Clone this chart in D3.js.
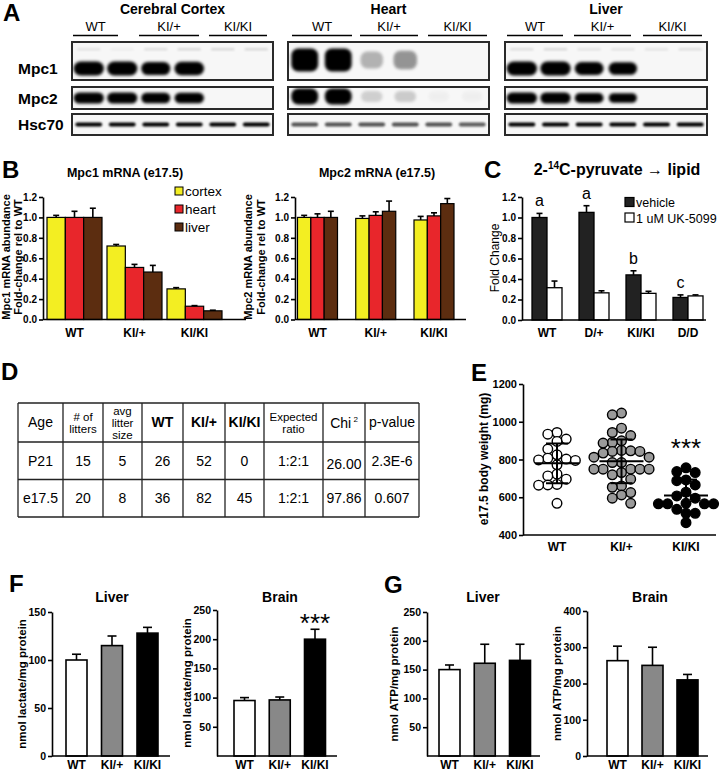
<!DOCTYPE html>
<html><head><meta charset="utf-8">
<script src="https://cdn.jsdelivr.net/npm/d3@7"></script>
<style>
body{margin:0;background:#fff}
svg{display:block;font-family:"Liberation Sans",Arial,sans-serif}
</style></head><body><svg id="c" width="720" height="771"></svg>
<script>
// ================= DATA =================
// Panel A (western blot band intensities, 6 lanes: WT,WT,KI/+,KI/+,KI/KI,KI/KI)
const genotypes = ["WT", "KI/+", "KI/KI"];
const blotTissues = ["Cerebral Cortex", "Heart", "Liver"];
const blotProteins = ["Mpc1", "Mpc2", "Hsc70"];
const lanes = [0, 1, 2, 3, 4, 5];
const cortexMpc1 = [1, 1, 0.85, 0.92, 0, 0];
const cortexMpc2 = [1, 1, 0.85, 0.9, 0, 0];
const cortexHsc70 = [0.85, 0.75, 0.85, 0.85, 0.85, 0.85];
const cortexUpper = [0.2, 0.1, 0.25, 0.3, 0.3, 0.3];
const heartMpc1 = [1, 1, 0.35, 0.5, 0, 0];
const heartMpc2 = [1, 1, 0.2, 0.22, 0.04, 0.04];
const heartHsc70 = [0.85, 0.85, 0.85, 0.85, 0.85, 0.8];
const heartUpper = [0, 0, 0, 0, 0, 0];
const liverMpc1 = [1, 1, 0.8, 0.75, 0, 0];
const liverMpc2 = [1, 1, 0.8, 0.7, 0, 0];
const liverHsc70 = [0.9, 0.85, 0.9, 0.85, 0.85, 0.9];
const liverUpper = [0.25, 0.3, 0.2, 0.2, 0.2, 0.25];

// Panel B (mRNA fold change)
const mrnaTissues = ["cortex", "heart", "liver"];
const mpc1Cortex = [1.00, 0.72, 0.30], mpc1CortexErr = [0.02, 0.015, 0.012];
const mpc1Heart  = [1.00, 0.51, 0.13], mpc1HeartErr  = [0.06, 0.03, 0.006];
const mpc1Liver  = [1.00, 0.465, 0.085], mpc1LiverErr = [0.09, 0.065, 0.006];
const mpc2Cortex = [1.00, 0.99, 0.975], mpc2CortexErr = [0.02, 0.025, 0.035];
const mpc2Heart  = [1.00, 1.02, 1.015], mpc2HeartErr  = [0.035, 0.035, 0.03];
const mpc2Liver  = [1.00, 1.06, 1.135], mpc2LiverErr  = [0.06, 0.10, 0.05];
const mrnaTicks = [0, 0.2, 0.4, 0.6, 0.8, 1.0, 1.2];

// Panel C (2-14C-pyruvate -> lipid)
const lipidGenotypes = ["WT", "D/+", "KI/KI", "D/D"];
const lipidSeries = ["vehicle", "1 uM UK-5099"];
const lipidVehicle = [1.00, 1.05, 0.44, 0.22], lipidVehicleErr = [0.04, 0.065, 0.04, 0.025];
const lipidUK = [0.315, 0.265, 0.26, 0.235], lipidUKErr = [0.065, 0.02, 0.02, 0.01];
const lipidLetters = ["a", "a", "b", "c"];

// Panel D (table)
const tableHeader = ["Age", "# of|litters", "avg|litter|size", "WT", "KI/+", "KI/KI", "Expected|ratio", "Chi^2", "p-value"];
const tableRows = [
  ["P21", "15", "5", "26", "52", "0", "1:2:1", "26.00", "2.3E-6"],
  ["e17.5", "20", "8", "36", "82", "45", "1:2:1", "97.86", "0.607"]
];

// Panel E (e17.5 body weight, mg)
const weightWT = [943, 934, 908, 896, 855, 825, 802, 795, 798, 807, 772, 713, 722, 696, 664, 665, 668, 568];
const weightHet = [1046, 1037, 966, 943, 927, 899, 887, 890, 848, 846, 843, 843, 834, 812, 812, 812, 812, 812,
  784, 784, 749, 749, 749, 749, 749, 731, 719, 706, 706, 696, 660, 653, 625, 612, 595, 568];
const weightKO = [756, 731, 736, 688, 692, 665, 627, 607, 595, 565, 565, 565, 565, 568, 536, 515, 515, 465];
const weightTicks = [400, 600, 800, 1000, 1200];

// Panel F (lactate)
const lactateLiver = [100, 115, 128], lactateLiverErr = [6, 10, 6];
const lactateBrain = [95, 96, 200], lactateBrainErr = [5, 5, 17];
// Panel G (ATP)
const atpLiver = [150, 161, 166], atpLiverErr = [8, 33, 28];
const atpBrain = [263, 250, 210], atpBrainErr = [40, 50, 15];

// ================= STYLE =================
const FONT = "Liberation Sans, Arial, sans-serif";
const mrnaColors = ["#f3ee22", "#e8262b", "#5c2d10"];
const genoFills = ["#ffffff", "#888888", "#000000"];

const svg = d3.select("#c");
const defs = svg.append("defs");
defs.append("filter").attr("id", "blur").attr("x", "-50%").attr("y", "-100%")
  .attr("width", "200%").attr("height", "300%")
  .append("feGaussianBlur").attr("stdDeviation", 1.5);
defs.append("filter").attr("id", "blur2").attr("x", "-10%").attr("y", "-50%")
  .attr("width", "120%").attr("height", "200%")
  .append("feGaussianBlur").attr("stdDeviation", 0.8);

function txt(x, y, s, size, weight, anchor) {
  return svg.append("text").attr("x", x).attr("y", y).attr("font-family", FONT)
    .attr("font-size", size).attr("font-weight", weight || "normal")
    .attr("text-anchor", anchor || "start").attr("fill", "#000").text(s);
}
function letter(s, x, y) { txt(x, y, s, 24, "bold"); }
function yAxis(x, y, ticks, fmt, fs) {
  const g = svg.append("g").attr("transform", `translate(${x},0)`)
    .call(d3.axisLeft(y).tickValues(ticks).tickFormat(fmt).tickSize(4).tickSizeOuter(0).tickPadding(2));
  g.select(".domain").attr("stroke", "#000").attr("stroke-width", 1.6);
  g.selectAll(".tick line").attr("stroke", "#000").attr("stroke-width", 1.6);
  g.selectAll("text").attr("font-family", FONT).attr("font-weight", "bold").attr("font-size", fs || 11).attr("fill", "#000");
  return g;
}
function hline(x0, x1, y, w) {
  svg.append("line").attr("x1", x0).attr("x2", x1).attr("y1", y).attr("y2", y)
    .attr("stroke", "#000").attr("stroke-width", w || 1.6);
}
// rotated title: bx = baseline x on screen, cy = vertical centre
function yTitle(s, bx, cy, size, weight) {
  svg.append("text").attr("transform", `translate(${bx},${cy}) rotate(-90)`)
    .attr("font-family", FONT).attr("font-size", size).attr("font-weight", weight)
    .attr("text-anchor", "middle").text(s);
}
function errBar(g, cx, yTop, yErr, cap) {
  g.append("line").attr("x1", cx).attr("x2", cx).attr("y1", yTop).attr("y2", yErr).attr("stroke", "#000").attr("stroke-width", 1.6);
  g.append("line").attr("x1", cx - cap / 2).attr("x2", cx + cap / 2).attr("y1", yErr).attr("y2", yErr).attr("stroke", "#000").attr("stroke-width", 1.6);
}

// ================= PANEL A =================
letter("A", 3, 21);
const blotPanels = [
  { x0: 72, x1: 273, title: blotTissues[0], data: [cortexMpc1, cortexMpc2, cortexHsc70], upper: cortexUpper,
    lines: [[73, 118], [139, 199], [209, 267]], big: false },
  { x0: 288, x1: 489, title: blotTissues[1], data: [heartMpc1, heartMpc2, heartHsc70], upper: heartUpper,
    lines: [[292, 352], [360, 418], [428, 487]], big: true },
  { x0: 505, x1: 707, title: blotTissues[2], data: [liverMpc1, liverMpc2, liverHsc70], upper: liverUpper,
    lines: [[507, 563], [574, 631], [643, 702]], big: false }
];
const blotRowsGeom = [
  { y0: 42, y1: 80, cy: 68.5, h: 14, hBig: 23, cyBig: 60 },
  { y0: 87, y1: 109, cy: 98, h: 11, hBig: 16, cyBig: 96.5 },
  { y0: 114, y1: 135, cy: 124.5, h: 4, hBig: 4, cyBig: 124.5 }
];
blotProteins.forEach((p, i) => txt(18, [74, 104, 130][i], p, 15.5, "bold"));
blotPanels.forEach(bp => {
  txt((bp.x0 + bp.x1) / 2, 14, bp.title, 14, "bold", "middle");
  bp.lines.forEach((l, k) => {
    txt((l[0] + l[1]) / 2, 31, genotypes[k], 13, "normal", "middle");
    hline(l[0], l[1], 35.5, 1.6);
  });
  const lx = d3.scaleBand().domain(lanes).range([bp.x0, bp.x1]);
  blotRowsGeom.forEach((rg, ri) => {
    const g = svg.append("g");
    g.append("rect").attr("x", bp.x0).attr("y", rg.y0).attr("width", bp.x1 - bp.x0).attr("height", rg.y1 - rg.y0)
      .attr("fill", "#f7f7f7").attr("stroke", "#2a2a2a").attr("stroke-width", 2);
    const vals = bp.data[ri];
    const bw = lx.bandwidth();
    if (ri === 0) {
      bp.upper.forEach((v, li) => {
        if (v <= 0) return;
        g.append("rect").attr("x", lx(li) + bw * 0.15).attr("y", rg.y0 + 6).attr("width", bw * 0.7).attr("height", 2.5)
          .attr("rx", 1.2).attr("fill", "#555").attr("opacity", v * 0.6).attr("filter", "url(#blur2)");
      });
    }
    vals.forEach((v, li) => {
      if (v <= 0.01) return;
      const h = (bp.big ? rg.hBig : rg.h) * (ri === 2 ? 1 : (0.6 + 0.4 * v));
      const w = bw * (ri === 2 ? 0.8 : (bp.big ? 0.8 : 0.9) * (0.75 + 0.25 * v));
      const cy = bp.big ? rg.cyBig : rg.cy;
      const op = bp.big ? Math.min(1, v * 1.1) : (v > 0.6 ? 1 : v * 1.3);
      g.append("rect").attr("x", lx(li) + (bw - w) / 2).attr("y", cy - h / 2).attr("width", w).attr("height", h)
        .attr("rx", Math.min(h / 2, 7)).attr("fill", bp.big && v < 0.9 ? "#444" : "#000")
        .attr("opacity", op).attr("filter", ri === 2 ? "url(#blur2)" : "url(#blur)");
    });
  });
});

// ================= PANEL B =================
letter("B", 2, 178);
function mrnaChart(axisX, axisEnd, centers, inner, title, titleX, series, errs) {
  const y = d3.scaleLinear().domain([0, 1.2]).range([319.5, 197]);
  const gx = d3.scalePoint().domain(genotypes).range(centers);
  const bx = d3.scaleBand().domain(mrnaTissues).range([-inner, inner]);
  txt(titleX, 177, title, 12.5, "bold", "middle");
  const g = svg.append("g");
  mrnaTissues.forEach((t, ti) => {
    genotypes.forEach((gt, gi) => {
      const v = series[ti][gi], e = errs[ti][gi];
      const x = gx(gt) + bx(t);
      g.append("rect").attr("x", x).attr("y", y(v)).attr("width", bx.bandwidth()).attr("height", y(0) - y(v))
        .attr("fill", mrnaColors[ti]).attr("stroke", "#000").attr("stroke-width", 1.2);
      errBar(g, x + bx.bandwidth() / 2, y(v), y(v + e), 6);
    });
  });
  yAxis(axisX, y, mrnaTicks, d3.format(".1f"), 10);
  hline(axisX, axisEnd, y(0));
  genotypes.forEach(gt => txt(gx(gt), 337, gt, 12, "bold", "middle"));
}
mrnaChart(43, 246, [74.5, 194.5], 27.5, "Mpc1 mRNA (e17.5)", 125,
  [mpc1Cortex, mpc1Heart, mpc1Liver], [mpc1CortexErr, mpc1HeartErr, mpc1LiverErr]);
yTitle("Mpc1 mRNA abundance", 10, 257, 11, "bold");
yTitle("Fold-change rel to WT", 22, 257, 11, "bold");
mrnaChart(295, 466, [317.5, 434], 20, "Mpc2 mRNA (e17.5)", 377,
  [mpc2Cortex, mpc2Heart, mpc2Liver], [mpc2CortexErr, mpc2HeartErr, mpc2LiverErr]);
yTitle("Mpc2 mRNA abundance", 252, 257, 11, "bold");
yTitle("Fold-change rel to WT", 265, 257, 11, "bold");
// legend
mrnaTissues.forEach((t, i) => {
  const cy = 191 + i * 18;
  svg.append("rect").attr("x", 175).attr("y", cy - 4).attr("width", 8).attr("height", 8)
    .attr("fill", mrnaColors[i]).attr("stroke", "#000").attr("stroke-width", 1);
  txt(185, cy + 5, t, 13.5, "normal");
});

// ================= PANEL C =================
letter("C", 484, 178);
{
  const t = svg.append("text").attr("x", 617).attr("y", 175).attr("text-anchor", "middle")
    .attr("font-family", FONT).attr("font-size", 16).attr("font-weight", "bold");
  t.append("tspan").text("2-");
  t.append("tspan").attr("font-size", 10).attr("dy", -6).text("14");
  t.append("tspan").attr("dy", 6).text("C-pyruvate \u2192 lipid");
  const y = d3.scaleLinear().domain([0, 1.2]).range([320, 197]);
  const gx = d3.scalePoint().domain(lipidGenotypes).range([547, 688]);
  const bx = d3.scaleBand().domain(lipidSeries).range([-15, 15]);
  const g = svg.append("g");
  const vals = [lipidVehicle, lipidUK], errs = [lipidVehicleErr, lipidUKErr];
  const fills = ["#222222", "#ffffff"];
  lipidSeries.forEach((s, si) => {
    lipidGenotypes.forEach((gt, gi) => {
      const v = vals[si][gi], e = errs[si][gi];
      const x = gx(gt) + bx(s);
      g.append("rect").attr("x", x).attr("y", y(v)).attr("width", bx.bandwidth()).attr("height", y(0) - y(v))
        .attr("fill", fills[si]).attr("stroke", "#000").attr("stroke-width", 1.3);
      errBar(g, x + bx.bandwidth() / 2, y(v), y(v + e), 6);
      if (si === 0) txt(x + bx.bandwidth() / 2, y(v + e) - 7, lipidLetters[gi], 16, "normal", "middle");
    });
  });
  yAxis(522, y, mrnaTicks, d3.format(".1f"), 10);
  hline(522, 706, y(0));
  lipidGenotypes.forEach(gt => txt(gx(gt), 337, gt, 12, "bold", "middle"));
  yTitle("Fold Change", 499, 258, 12, "normal");
  lipidSeries.forEach((s, i) => {
    const cy = 202 + i * 15.5;
    svg.append("rect").attr("x", 625).attr("y", cy - 4.5).attr("width", 9).attr("height", 9)
      .attr("fill", fills[i]).attr("stroke", "#000").attr("stroke-width", 1.2);
    txt(636, cy + 5, s, 12.5, "normal");
  });
}

// ================= PANEL D =================
letter("D", 1, 380);
{
  const colX = [18, 63, 103, 142, 183, 225, 264, 323, 365, 419];
  const rowY = [403, 442, 479.5, 517];
  const g = svg.append("g");
  colX.forEach(x => g.append("line").attr("x1", x).attr("x2", x).attr("y1", rowY[0]).attr("y2", rowY[3])
    .attr("stroke", "#222").attr("stroke-width", 1.3));
  rowY.forEach(y => g.append("line").attr("x1", colX[0]).attr("x2", colX[9]).attr("y1", y).attr("y2", y)
    .attr("stroke", "#222").attr("stroke-width", 1.3));
  tableHeader.forEach((h, i) => {
    const cx = (colX[i] + colX[i + 1]) / 2, cy = (rowY[0] + rowY[1]) / 2;
    const bold = i >= 3 && i <= 5;
    if (h.startsWith("Chi")) {
      const t = txt(cx, cy + 5, "", 14, "normal", "middle");
      t.append("tspan").text("Chi");
      t.append("tspan").attr("font-size", 8).attr("dy", -6).text(" 2");
      return;
    }
    const lines = h.split("|");
    const lh = 12;
    lines.forEach((l, k) => {
      txt(cx, cy + 4 + (k - (lines.length - 1) / 2) * lh, l, bold ? 14 : (lines.length > 1 ? 11.5 : 14), bold ? "bold" : "normal", "middle");
    });
  });
  tableRows.forEach((r, ri) => {
    const cy = (rowY[ri + 1] + rowY[ri + 2]) / 2;
    r.forEach((c, i) => {
      const cx = (colX[i] + colX[i + 1]) / 2;
      const dy = (ri === 0 && i === 7) ? 3 : 0;
      txt(cx, cy + 5 + dy, c, 14, "normal", "middle");
    });
  });
}

// ================= PANEL E =================
letter("E", 471, 381);
{
  const y = d3.scaleLinear().domain([400, 1200]).range([535, 384]);
  const gx = d3.scalePoint().domain(genotypes).range([557, 686]);
  const groups = [weightWT, weightHet, weightKO];
  const fills = ["#ffffff", "#9a9a9a", "#000000"];
  const r = 4.8, step = 9.2, minD = 8.6;
  const g = svg.append("g");
  groups.forEach((vals, gi) => {
    // beeswarm placement derived from the values
    const sorted = vals.slice().sort((a, b) => b - a);
    const placed = [];
    sorted.forEach(v => {
      const py = y(v);
      const cands = [0, -1, 1, -2, 2, -3, 3];
      for (const c of cands) {
        const px = c * step;
        if (placed.every(p => Math.hypot(p.x - px, p.y - py) >= minD)) { placed.push({ x: px, y: py }); break; }
      }
    });
    placed.forEach(p => g.append("circle").attr("cx", gx(genotypes[gi]) + p.x).attr("cy", p.y).attr("r", r)
      .attr("fill", fills[gi]).attr("stroke", "#000").attr("stroke-width", 1.4));
    const m = d3.mean(vals), sd = d3.deviation(vals), cx = gx(genotypes[gi]);
    const lg = svg.append("g").attr("stroke", "#000").attr("stroke-width", 2);
    lg.append("line").attr("x1", cx - 22).attr("x2", cx + 22).attr("y1", y(m)).attr("y2", y(m));
    lg.append("line").attr("x1", cx).attr("x2", cx).attr("y1", y(m + sd)).attr("y2", y(m - sd));
    lg.append("line").attr("x1", cx - 11).attr("x2", cx + 11).attr("y1", y(m + sd)).attr("y2", y(m + sd));
    lg.append("line").attr("x1", cx - 11).attr("x2", cx + 11).attr("y1", y(m - sd)).attr("y2", y(m - sd));
  });
  yAxis(523, y, weightTicks, d3.format("d"), 11);
  hline(523, 716, y(400));
  genotypes.forEach(gt => txt(gx(gt), 551, gt, 12, "bold", "middle"));
  yTitle("e17.5 body weight (mg)", 488, 459, 12, "bold");
  txt(gx("KI/KI"), 457, "***", 26, "normal", "middle");
}

// ================= PANELS F & G =================
function simpleBars(axisX, axisEnd, centers, domain, yTopPx, ticks, vals, errs, title, titleX, ytitle, ytX) {
  const y = d3.scaleLinear().domain(domain).range([756, yTopPx]);
  const gx = d3.scalePoint().domain(genotypes).range(centers);
  const w = 21;
  const g = svg.append("g");
  genotypes.forEach((gt, i) => {
    const x = gx(gt) - w / 2;
    g.append("rect").attr("x", x).attr("y", y(vals[i])).attr("width", w).attr("height", y(0) - y(vals[i]))
      .attr("fill", genoFills[i]).attr("stroke", "#000").attr("stroke-width", 1.6);
    errBar(g, gx(gt), y(vals[i]), y(vals[i] + errs[i]), 9);
  });
  yAxis(axisX, y, ticks, d3.format("d"), 10.5);
  hline(axisX, axisEnd, y(0));
  genotypes.forEach(gt => txt(gx(gt), 768.5, gt, 12, "bold", "middle"));
  txt(titleX, 602, title, 14, "bold", "middle");
  yTitle(ytitle, ytX, (756 + yTopPx) / 2, 11.5, "bold");
  return { y, gx };
}
letter("F", 9, 592);
simpleBars(52, 170, [76.5, 147.5], [0, 150], 612, [0, 50, 100, 150], lactateLiver, lactateLiverErr,
  "Liver", 112, "nmol lactate/mg protein", 26);
{
  const r = simpleBars(217, 337, [244.5, 315], [0, 250], 610, [50, 100, 150, 200, 250], lactateBrain, lactateBrainErr,
    "Brain", 280, "nmol lactate/mg protein", 191);
  txt(r.gx("KI/KI"), 632, "***", 26, "normal", "middle");
}
letter("G", 384, 593);
simpleBars(427, 540, [449.5, 520], [0, 250], 612, [50, 100, 150, 200, 250], atpLiver, atpLiverErr,
  "Liver", 483, "nmol ATP/mg protein", 398);
simpleBars(587, 708, [617.5, 687.5], [0, 400], 611, [0, 100, 200, 300, 400], atpBrain, atpBrainErr,
  "Brain", 650, "nmol ATP/mg protein", 561);
</script></body></html>
